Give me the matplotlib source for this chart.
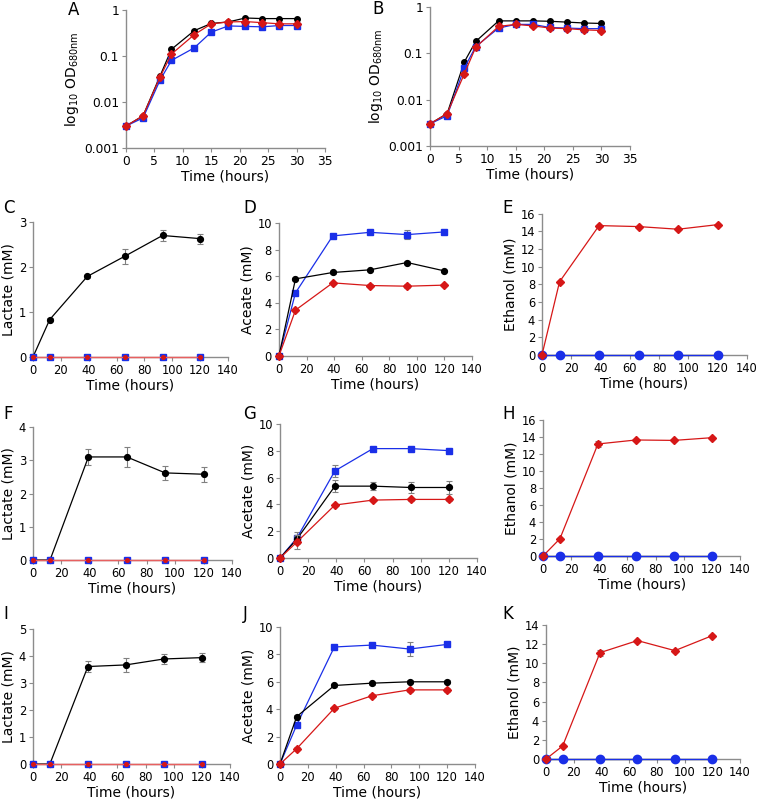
import matplotlib
matplotlib.use("Agg")
import matplotlib.pyplot as plt
import numpy as np

plt.rcParams['font.family'] = ['DejaVu Sans']
plt.rcParams['mathtext.default'] = 'regular'

# ---------------- data ----------------
t_growth = [0, 3, 6, 8, 12, 15, 18, 21, 24, 27, 30]
A_black = [0.003, 0.005, 0.037, 0.14, 0.355, 0.51, 0.55, 0.67, 0.65, 0.65, 0.65]
A_blue = [0.003, 0.0045, 0.030, 0.08, 0.15, 0.33, 0.45, 0.44, 0.43, 0.46, 0.46]
A_red = [0.003, 0.005, 0.035, 0.11, 0.29, 0.50, 0.55, 0.56, 0.53, 0.50, 0.50]
B_black = [0.003, 0.005, 0.065, 0.18, 0.50, 0.50, 0.50, 0.49, 0.47, 0.45, 0.44]
B_blue = [0.003, 0.0045, 0.048, 0.14, 0.35, 0.42, 0.42, 0.36, 0.35, 0.34, 0.34]
B_red = [0.003, 0.005, 0.036, 0.135, 0.38, 0.42, 0.39, 0.35, 0.34, 0.32, 0.31]

t_met = [0, 12, 39, 66, 93, 120]
zeros = [0, 0, 0, 0, 0, 0]

C_black = [0, 0.83, 1.79, 2.24, 2.70, 2.63]
C_black_err = [0, 0.03, 0.03, 0.17, 0.12, 0.11]
D_blue = [0, 4.75, 9.03, 9.30, 9.13, 9.33]
D_blue_err = [0, 0.1, 0.1, 0.1, 0.35, 0.1]
D_black = [0, 5.80, 6.28, 6.48, 7.03, 6.40]
D_black_err = [0, 0.1, 0.1, 0.1, 0.1, 0.1]
D_red = [0, 3.45, 5.50, 5.30, 5.25, 5.33]
D_red_err = [0, 0.1, 0.1, 0.1, 0.15, 0.1]
E_red = [0, 8.28, 14.64, 14.53, 14.23, 14.75]
E_red_err = [0, 0.1, 0.1, 0.1, 0.1, 0.1]

F_black = [0, 0, 3.10, 3.10, 2.62, 2.58]
F_black_err = [0, 0, 0.25, 0.30, 0.22, 0.23]
G_blue = [0, 1.49, 6.50, 8.16, 8.16, 8.01]
G_blue_err = [0, 0.45, 0.45, 0.1, 0.1, 0.1]
G_black = [0, 1.41, 5.36, 5.36, 5.26, 5.26]
G_black_err = [0, 0.2, 0.45, 0.3, 0.4, 0.45]
G_red = [0, 1.19, 3.95, 4.32, 4.37, 4.37]
G_red_err = [0, 0.5, 0.1, 0.1, 0.1, 0.1]
H_red = [0, 2.03, 13.18, 13.65, 13.60, 13.92]
H_red_err = [0, 0.1, 0.4, 0.1, 0.1, 0.1]

I_black = [0, 0, 3.61, 3.67, 3.89, 3.94]
I_black_err = [0, 0, 0.2, 0.27, 0.2, 0.18]
J_blue = [0, 2.85, 8.54, 8.68, 8.39, 8.73]
J_blue_err = [0, 0.1, 0.1, 0.1, 0.5, 0.1]
J_black = [0, 3.46, 5.73, 5.90, 6.00, 6.00]
J_black_err = [0, 0.1, 0.1, 0.1, 0.1, 0.1]
J_red = [0, 1.12, 4.07, 4.98, 5.41, 5.41]
J_red_err = [0, 0.1, 0.1, 0.1, 0.15, 0.15]
K_red = [0, 1.36, 11.11, 12.37, 11.32, 12.89]
K_red_err = [0, 0.1, 0.3, 0.1, 0.1, 0.1]

BLACK = '#000000'
BLUE = '#1a2fe8'
RED = '#d61717'
LRED = '#e86060'
GRAY = '#8c8c8c'
ERR = '#808080'

fig = plt.figure(figsize=(7.58, 8.06), dpi=100)


def style(ax, xlim, xticks, ylim, yticks, ylabel, tsize=8.3, lsize=10):
    for s in ('top', 'right'):
        ax.spines[s].set_visible(False)
    for s in ('left', 'bottom'):
        ax.spines[s].set_color(GRAY)
        ax.spines[s].set_linewidth(1.0)
    ax.set_xlim(*xlim)
    ax.set_xticks(xticks)
    ax.set_ylim(*ylim)
    if yticks is not None:
        ax.set_yticks(yticks)
    ax.tick_params(axis='both', colors=GRAY, labelcolor='black', labelsize=tsize,
                   length=3, width=0.8, direction='out', pad=2)
    ax.set_xlabel('Time (hours)', fontsize=lsize, labelpad=1)
    ax.set_ylabel(ylabel, fontsize=lsize, labelpad=2)


def series(ax, x, y, color, marker, ms, err=None, lc=None, z=3):
    ax.plot(x, y, color=lc or color, lw=0.9, marker=marker, ms=ms,
            mfc=color, mec=color, clip_on=False, zorder=z)
    if err is not None:
        ax.errorbar(x, y, yerr=err, fmt='none', ecolor=ERR, elinewidth=0.8,
                    capsize=2, capthick=0.8, clip_on=False, zorder=z - 0.5)


def label(x, y, s, size=12):
    fig.text(x / 758, 1 - y / 806, s, fontsize=size, ha='left', va='center')


# ---------- A ----------
axA = fig.add_axes([0.1662, 0.8164, 0.2625, 0.1712])
axA.set_yscale('log')
series(axA, t_growth, A_black, BLACK, 'o', 4)
series(axA, t_growth, A_blue, BLUE, 's', 3.8)
series(axA, t_growth, A_red, RED, 'D', 3.6)
style(axA, (0, 35), range(0, 36, 5), (0.001, 1), [0.001, 0.01, 0.1, 1],
      r'log$_{10}$ OD$_{680nm}$', tsize=8.8, lsize=10)
axA.yaxis.set_major_formatter(matplotlib.ticker.FuncFormatter(lambda v, p: f'{v:g}'))
axA.yaxis.set_minor_locator(matplotlib.ticker.NullLocator())

# ---------- B ----------
axB = fig.add_axes([0.5673, 0.8189, 0.2639, 0.1725])
axB.set_yscale('log')
series(axB, t_growth, B_black, BLACK, 'o', 4)
series(axB, t_growth, B_blue, BLUE, 's', 3.8)
series(axB, t_growth, B_red, RED, 'D', 3.6)
style(axB, (0, 35), range(0, 36, 5), (0.001, 1), [0.001, 0.01, 0.1, 1],
      r'log$_{10}$ OD$_{680nm}$', tsize=8.8, lsize=10)
axB.yaxis.set_major_formatter(matplotlib.ticker.FuncFormatter(lambda v, p: f'{v:g}'))
axB.yaxis.set_minor_locator(matplotlib.ticker.NullLocator())

xt = range(0, 141, 20)


def lactate(rect, black, berr, ymax):
    ax = fig.add_axes(rect)
    series(ax, t_met, black, BLACK, 'o', 4.2, berr, z=3)
    series(ax, t_met, zeros, BLUE, 's', 4.2, lc=LRED, z=4)
    series(ax, t_met, zeros, RED, 'o', 2.6, lc=LRED, z=5)
    style(ax, (0, 140), xt, (0, ymax), range(0, ymax + 1), 'Lactate (mM)')
    return ax


def acetate(rect, blue, bl_err, black, bk_err, red, r_err, ylabel):
    ax = fig.add_axes(rect)
    series(ax, t_met, blue, BLUE, 's', 4.2, bl_err, z=3)
    series(ax, t_met, black, BLACK, 'o', 4.2, bk_err, z=4)
    series(ax, t_met, red, RED, 'D', 3.8, r_err, z=5)
    style(ax, (0, 140), xt, (0, 10), range(0, 11, 2), ylabel)
    return ax


def ethanol(rect, red, r_err, ymax):
    ax = fig.add_axes(rect)
    series(ax, t_met, zeros, BLACK, 'o', 4.2, z=3)
    series(ax, t_met, zeros, BLUE, 'o', 6, z=4)
    series(ax, t_met, red, RED, 'D', 4, r_err, z=5)
    style(ax, (0, 140), xt, (0, ymax), range(0, ymax + 1, 2), 'Ethanol (mM)')
    return ax


lactate([0.0435, 0.5571, 0.2573, 0.1675], C_black, C_black_err, 3)
acetate([0.368, 0.5583, 0.2546, 0.165], D_blue, D_blue_err, D_black, D_black_err,
        D_red, D_red_err, 'Aceate (mM)')
ethanol([0.715, 0.5596, 0.2704, 0.1754], E_red, E_red_err, 16)

lactate([0.0435, 0.3052, 0.2625, 0.165], F_black, F_black_err, 4)
acetate([0.3694, 0.3077, 0.26, 0.1663], G_blue, G_blue_err, G_black, G_black_err,
        G_red, G_red_err, 'Acetate (mM)')
ethanol([0.7164, 0.3102, 0.26, 0.1687], H_red, H_red_err, 16)

lactate([0.0435, 0.0521, 0.26, 0.1675], I_black, I_black_err, 5)
acetate([0.3694, 0.0521, 0.2573, 0.17], J_blue, J_blue_err, J_black, J_black_err,
        J_red, J_red_err, 'Acetate (mM)')
ethanol([0.7203, 0.0583, 0.256, 0.1663], K_red, K_red_err, 14)

# panel letters
label(68, 10, 'A')
label(372, 9, 'B')
label(3, 208, 'C')
label(243, 208, 'D')
label(502, 208, 'E')
label(3, 414, 'F')
label(243, 414, 'G')
label(502, 414, 'H')
label(3, 614, 'I')
label(243, 614, 'J')
label(502, 614, 'K')

fig.savefig('out.png', dpi=100)
